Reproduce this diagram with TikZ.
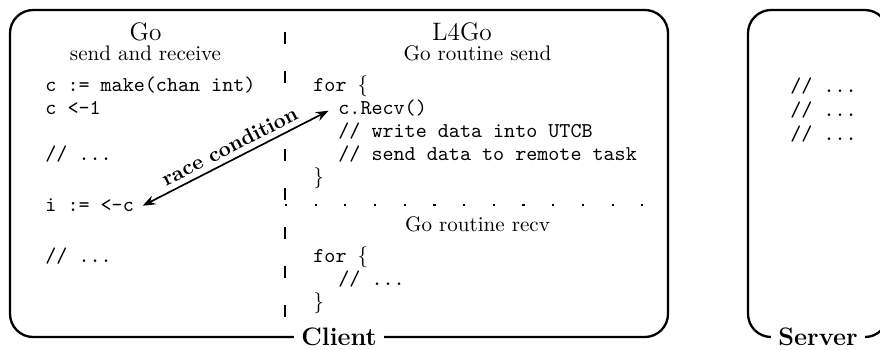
\documentclass[tikz,border=0pt]{standalone}
\usetikzlibrary{arrows.meta}
\begin{document}
\begin{tikzpicture}[x=0.475pt, y=-0.475pt,
  boxline/.style={line width=1.1pt, rounded corners=11pt},
  code/.style={anchor=base west, inner sep=0pt, font=\ttfamily},
  title/.style={anchor=base, inner sep=0pt, font=\large},
  sub/.style={anchor=base, inner sep=0pt},
  boxlabel/.style={fill=white, font=\large\bfseries, inner sep=3.5pt},
  sep/.style={line width=1pt, dash pattern=on 5.7pt off 12.8pt},
  dotsep/.style={line width=1pt, dash pattern=on 1pt off 13.1pt},
  race/.style={line width=0.8pt, {Stealth[length=6pt,width=4.5pt]}-{Stealth[length=6pt,width=4.5pt]}},
  ]
\useasboundingbox (0,0) rectangle (880,349);
\clip (0,0) rectangle (880,349);
% boxes
\draw[boxline] (10,10) rectangle (668,337);
\draw[boxline] (748,10) rectangle (888,337);
% separators
\coordinate (vtop) at (285,32);
\coordinate (vbot) at (285,318);
\coordinate (hl) at (285,205);
\coordinate (hr) at (669,205);
\draw[sep] (vtop) -- (vbot);
\draw[dotsep] (hl) -- (hr);
% labels on box edges
\node[boxlabel] (client) at (339,337) {Client};
\node[boxlabel] (server) at (818,337) {Server};
% titles
\node[title] (go) at (145.5,40) {Go};
\node[sub] (goSub) at (145.5,60.5) {send and receive};
\node[title] (l4go) at (462,40) {L4Go};
\node[sub] (sendSub) at (477.5,60.5) {Go routine send};
\node[sub] (recvSub) at (477.5,231) {Go routine recv};
% left column
\node[code] (l1) at (45,91) {c := make(chan int)};
\node[code] (l2) at (45,114) {c <-1};
\node[code] (l3) at (45,160) {// ...};
\node[code] (irecv) at (45,211) {i := <-c};
\node[code] (l5) at (45,262) {// ...};
% right column, send
\node[code] (s1) at (313,91) {for $\{$};
\node[code] (crecv) at (338,114) {c.Recv()};
\node[code] (s3) at (338,137) {// write data into UTCB};
\node[code] (s4) at (338,160) {// send data to remote task};
\node[code] (s5) at (313,183) {$\}$};
% right column, recv
\node[code] (r1) at (313,262) {for $\{$};
\node[code] (r2) at (338,285) {// ...};
\node[code] (r3) at (313,308) {$\}$};
% server
\node[code] (v1) at (790,92) {// ...};
\node[code] (v2) at (790,116) {// ...};
\node[code] (v3) at (790,140) {// ...};
% race condition
\draw[race] ([xshift=4pt,yshift=-0.5pt]irecv.east) -- ([xshift=-4.5pt,yshift=-1.5pt]crecv.west)
  node[midway, above=1pt, sloped, fill=white, inner sep=1.5pt, font=\bfseries] (racelbl) {race condition};
\end{tikzpicture}
\end{document}
